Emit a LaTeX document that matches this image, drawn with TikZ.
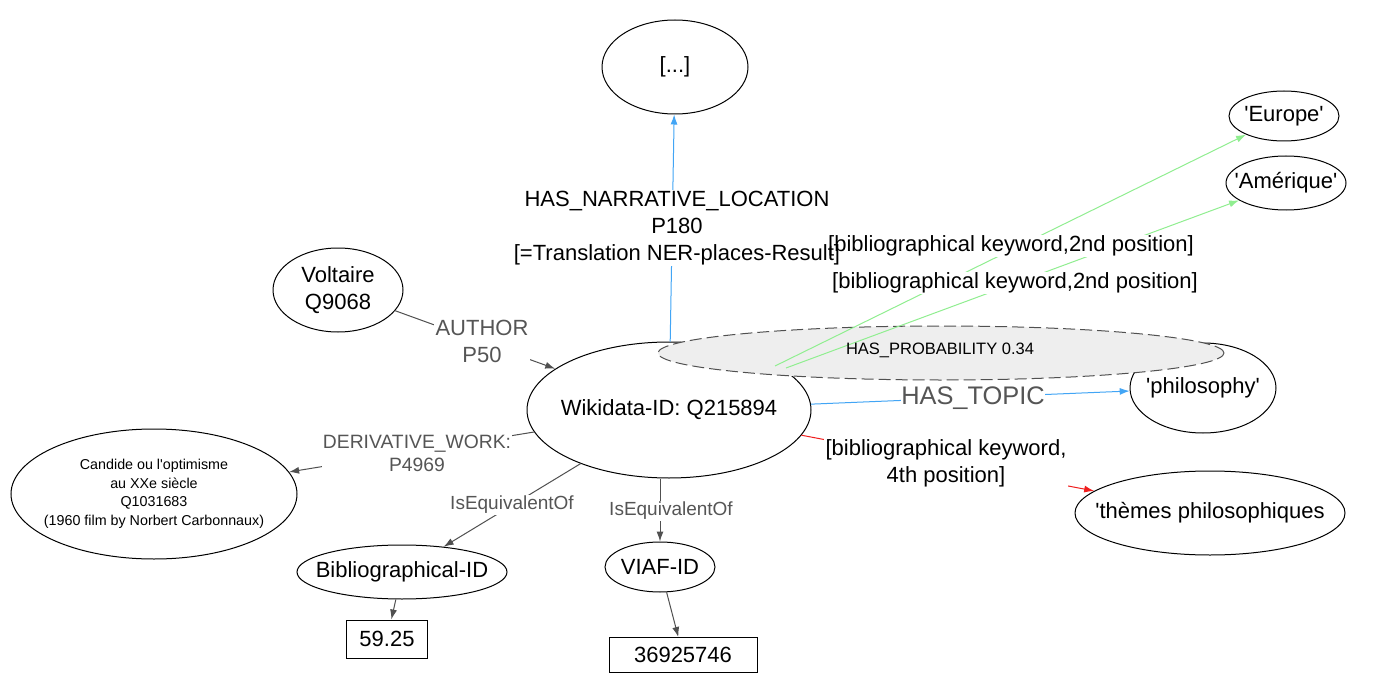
\documentclass[tikz,border=0pt]{standalone}
\usepackage{fontspec}
\setmainfont{Liberation Sans}
\usetikzlibrary{shapes.geometric,arrows.meta}
\definecolor{eblue}{RGB}{66,165,245}
\definecolor{egreen}{RGB}{144,238,144}
\definecolor{ered}{RGB}{240,30,30}
\definecolor{egray}{RGB}{80,80,80}
\definecolor{lgray}{RGB}{85,85,85}
\definecolor{pfill}{RGB}{238,238,238}
\newcommand{\sq}{\textquotesingle}
\pgfdeclarelayer{ells}
\pgfdeclarelayer{edges}
\pgfdeclarelayer{fills}
\pgfsetlayers{ells,edges,fills,main}
\begin{document}
\begin{tikzpicture}[x=1pt,y=-1pt,
  ell/.style={ellipse, draw=black, line width=1pt, inner sep=0pt},
  box/.style={rectangle, draw=black, fill=white, line width=1pt, inner sep=0pt, font=\fontsize{22}{27}\selectfont},
  txt/.style={inner sep=0pt, align=center, font=\fontsize{22}{27}\selectfont},
  edge/.style={line width=1pt, -{Latex[length=10pt,width=7pt]}},
  lab/.style={inner sep=1pt, align=center, font=\fontsize{22}{27}\selectfont},
  glab/.style={lab, text=lgray},
]
\begin{pgfonlayer}{ells}
\fill[white] (0,0) rectangle (1377,690);
% ellipses
\node[ell, minimum width=146, minimum height=94] (dots) at (675,67) {};
\node[ell, minimum width=110, minimum height=50] (europe) at (1284,116) {};
\node[ell, minimum width=120, minimum height=54] (amer) at (1286,183) {};
\node[ell, minimum width=130, minimum height=84] (volt) at (338,290) {};
\node[ell, minimum width=284, minimum height=136] (wiki) at (669,410) {};
\node[ell, minimum width=146, minimum height=90] (philo) at (1203,388) {};
\node[ell, minimum width=270, minimum height=84] (themes) at (1210,513) {};
\node[ell, minimum width=286, minimum height=130] (cand) at (154,494) {};
\node[ell, minimum width=210, minimum height=54] (bib) at (402,572) {};
\node[ell, minimum width=110, minimum height=50] (viaf) at (660,567) {};
\node[box, minimum width=81, minimum height=38] (v1) at (387,639) {59.25};
\node[box, minimum width=148, minimum height=35] (v2) at (683,655) {36925746};
% probability ellipse
\node[ellipse, draw=egray, fill=pfill, dash pattern=on 12pt off 5pt, line width=1pt,
      minimum width=566, minimum height=54, inner sep=0pt] (prob) at (941,353) {};
\end{pgfonlayer}
\useasboundingbox (0,0) rectangle (1377,690);

% texts
\node[txt] (dotst) at (dots) {[...]};
\node[txt] (europet) at (europe) {\sq Europe\sq};
\node[txt] (amert) at (amer) {\sq Amérique\sq};
\node[txt] (voltt) at (volt) {Voltaire\\Q9068};
\node[txt] (wikit) at (wiki) {Wikidata-ID: Q215894};
\node[txt] (philot) at (philo) {\sq philosophy\sq};
\node[txt] (themest) at (themes) {\sq thèmes philosophiques};
\node[txt, font=\fontsize{14.3}{18.5}\selectfont] (candt) at (cand) {Candide ou l\sq optimisme\\au XXe siècle\\Q1031683\\(1960 film by Norbert Carbonnaux)};
\node[txt] (bibt) at (bib) {Bibliographical-ID};
\node[txt] (viaft) at (viaf) {VIAF-ID};
\node[txt, font=\fontsize{16.5}{20}\selectfont] (probt) at (940,350) {HAS\_PROBABILITY 0.34};

% labels (text on top)
\node[lab] (lnarr) at (677,228) {HAS\_NARRATIVE\_LOCATION\\P180\\{[=Translation NER-places-Result]}};
\node[glab] (lauth) at (482,341) {AUTHOR\\P50};
\node[glab, font=\fontsize{19.3}{23}\selectfont] (lderiv) at (417,453) {DERIVATIVE\_WORK:\\P4969};
\node[glab, font=\fontsize{19}{22}\selectfont] (leqa) at (512,505) {IsEquivalentOf};
\node[glab, font=\fontsize{19}{22}\selectfont] (leqb) at (671,511) {IsEquivalentOf};
\node[glab, font=\fontsize{25.4}{28}\selectfont, inner sep=0pt] (ltopic) at (973,398) {HAS\_TOPIC};
\node[lab] (lkwd) at (946,463) {[bibliographical keyword,\\4th position]};
\node[lab] (lkwa) at (1011,246) {[bibliographical keyword,2nd position]};
\node[lab] (lkwb) at (1015,283) {[bibliographical keyword,2nd position]};

% label backgrounds
\begin{pgfonlayer}{fills}
\foreach \n in {lnarr,lauth,lderiv,leqa,leqb,ltopic,lkwd,lkwa,lkwb}
  \fill[white] (\n.south west) rectangle (\n.north east);
\end{pgfonlayer}

% edges
\begin{pgfonlayer}{edges}
\draw[edge, eblue] (wiki) -- (dots);
\draw[edge, egray] (volt) -- (wiki);
\draw[edge, egray] (wiki) -- (cand);
\draw[edge, egray] (wiki) -- (bib);
\draw[edge, egray] (wiki.south -| viaf.north) -- (viaf.north);
\draw[edge, egray] (bib) -- (v1);
\draw[edge, egray] (viaf) -- (v2);
\draw[edge, eblue] (wiki) -- (philo);
\draw[edge, ered] (wiki) -- (themes);
\coordinate (g1) at (775,366);
\coordinate (g2) at (786,368);
\draw[edge, egreen] (g1) -- (europe);
\draw[edge, egreen] (g2) -- (amer);
\end{pgfonlayer}
\end{tikzpicture}
\end{document}
